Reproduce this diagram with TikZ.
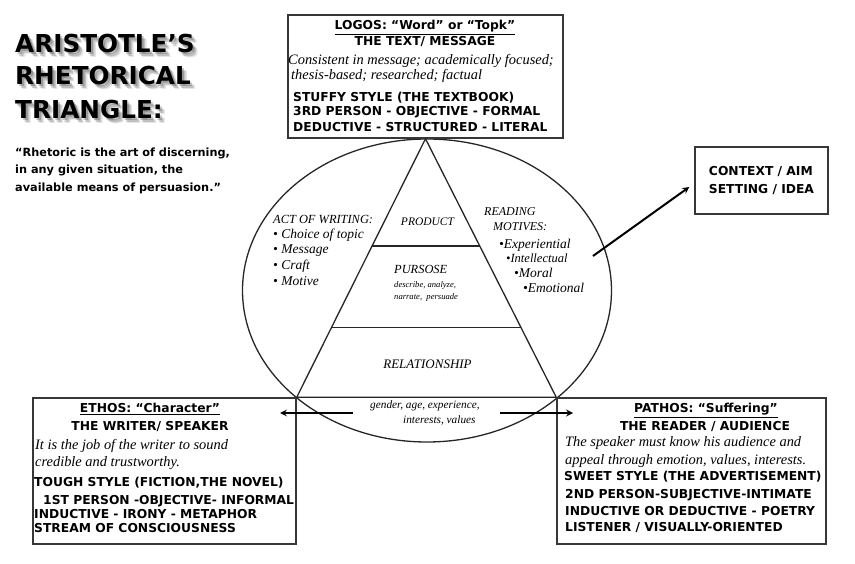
\documentclass[tikz,border=0pt]{standalone}
\usepackage{fontspec}
\setmainfont{Liberation Serif}
\newfontfamily\heavy{DejaVu Sans}
\usetikzlibrary{calc}
\definecolor{framegray}{RGB}{55,55,55}
\newcommand{\capsize}{\heavy\bfseries\fontsize{12.3}{15}\selectfont}
\newcommand{\itsize}{\itshape\fontsize{14.4}{17}\selectfont}
\tikzset{
  panel/.style={draw=framegray,line width=1.5pt,fill=white,inner sep=0pt},
  edge/.style={draw=black!85,line width=1.3pt},
  bigarrow/.style={->,>=stealth,line width=2pt},
  titleline/.style={anchor=base west,inner sep=0pt,font=\heavy\bfseries\fontsize{24.7}{28}\selectfont},
  quoteline/.style={anchor=base west,inner sep=0pt,font=\heavy\bfseries\fontsize{11.3}{13}\selectfont},
  capline/.style={anchor=base west,inner sep=0pt,font=\capsize},
  capmid/.style={anchor=base,inner sep=0pt,font=\capsize},
  itline/.style={anchor=base west,inner sep=0pt,font=\itsize},
  triline/.style={anchor=base west,inner sep=0pt,font=\itshape\fontsize{13.5}{16}\selectfont}
}

\begin{document}
\begin{tikzpicture}[x=1pt,y=-1pt]
\useasboundingbox (0,0) rectangle (855,564);

% title, soft shadow first
\foreach \d/\op in {5/0.1,3.5/0.16,2/0.22} {
  \node[titleline,opacity=\op] (shA\d) at (15+\d,53+\d) {ARISTOTLE’S};
  \node[titleline,opacity=\op] (shB\d) at (15+\d,85+\d) {RHETORICAL};
  \node[titleline,opacity=\op] (shC\d) at (15+\d,119+\d) {TRIANGLE:};
}
\node[titleline] (ttlA) at (15,53) {ARISTOTLE’S};
\node[titleline] (ttlB) at (15,85) {RHETORICAL};
\node[titleline] (ttlC) at (15,119) {TRIANGLE:};
\node[quoteline] (qtA) at (15,156.7) {“Rhetoric is the art of discerning,};
\node[quoteline] (qtB) at (15,174) {in any given situation, the};
\node[quoteline] (qtC) at (15,191.7) {available means of persuasion.”};

% the circle of the situation
\draw[edge] (427,290.5) ellipse [x radius=184.5pt, y radius=151.5pt];

% the three appeals
\node[panel,minimum width=275pt,minimum height=123pt] (logos) at (425.5,76.5) {};
\node[panel,minimum width=263pt,minimum height=146pt] (ethos) at (164.5,471) {};
\node[panel,minimum width=269pt,minimum height=146pt] (pathos) at (691.5,471) {};
\node[panel,minimum width=133pt,minimum height=67pt,font=\capsize,align=left] (ctx) at (761.5,180.5)
  {CONTEXT / AIM\\[2.7pt]SETTING / IDEA};

% triangle
\draw[edge] (logos.south) -- (ethos.north east) -- (pathos.north west) -- cycle;
\draw[edge] ($(logos.south)!0.415!(ethos.north east)$) -- ($(logos.south)!0.415!(pathos.north west)$);
\draw[edge] ($(logos.south)!0.729!(ethos.north east)$) -- ($(logos.south)!0.729!(pathos.north west)$);

% logos text
\node[capmid] (lg1) at (425,30) {\underline{LOGOS: “Word” or “Topk”}};
\node[capmid] (lg2) at (425,46) {THE TEXT/ MESSAGE};
\node[itline] (lg3) at (288,65) {Consistent in message; academically focused;};
\node[itline] (lg4) at (291,80) {thesis-based; researched; factual};
\node[capline] (lg5) at (293,101.7) {STUFFY STYLE (THE TEXTBOOK)};
\node[capline] (lg6) at (293,116) {3RD PERSON - OBJECTIVE - FORMAL};
\node[capline] (lg7) at (293,131.7) {DEDUCTIVE - STRUCTURED - LITERAL};

% ethos text
\node[capmid] (et1) at (150,412.7) {\underline{ETHOS: “Character”}};
\node[capmid] (et2) at (150,430.7) {THE WRITER/ SPEAKER};
\node[itline] (et3) at (35,449) {It is the job of the writer to sound};
\node[itline] (et4) at (35,466.7) {credible and trustworthy.};
\node[capline] (et5) at (34,486) {TOUGH STYLE (FICTION,THE NOVEL)};
\node[capline] (et6) at (43,504) {1ST PERSON -OBJECTIVE- INFORMAL};
\node[capline] (et7) at (34,518.3) {INDUCTIVE - IRONY - METAPHOR};
\node[capline] (et8) at (34,532.3) {STREAM OF CONSCIOUSNESS};

% pathos text
\node[capmid] (pa1) at (706,412.7) {\underline{PATHOS: “Suffering”}};
\node[capmid] (pa2) at (705,430) {THE READER / AUDIENCE};
\node[itline] (pa3) at (565,446.7) {The speaker must know his audience and};
\node[itline] (pa4) at (565,464) {appeal through emotion, values, interests.};
\node[capline] (pa5) at (564,480.7) {SWEET STYLE (THE ADVERTISEMENT)};
\node[capline] (pa6) at (565,498.3) {2ND PERSON-SUBJECTIVE-INTIMATE};
\node[capline] (pa7) at (565,515) {INDUCTIVE OR DEDUCTIVE - POETRY};
\node[capline] (pa8) at (565,531.7) {LISTENER / VISUALLY-ORIENTED};

% inside the circle
\node[triline,font=\itshape\fontsize{12.4}{15}\selectfont] (aw0) at (273,223.3) {ACT OF WRITING:};
\node[triline] (aw1) at (273,239) {• Choice of topic};
\node[triline] (aw2) at (273,254) {• Message};
\node[triline] (aw3) at (273,270) {• Craft};
\node[triline] (aw4) at (273,286) {• Motive};
\node[triline,font=\itshape\fontsize{12}{15}\selectfont] (rm0) at (484,216) {READING};
\node[triline,font=\itshape\fontsize{12}{15}\selectfont] (rm1) at (493,230.7) {MOTIVES:};
\node[triline] (rm2) at (499,248.3) {•Experiential};
\node[triline,font=\itshape\fontsize{12.5}{15}\selectfont] (rm3) at (506,262.7) {•Intellectual};
\node[triline] (rm4) at (514,277.3) {•Moral};
\node[triline] (rm5) at (523,292.7) {•Emotional};
\node[anchor=base,inner sep=0pt,font=\itshape\fontsize{11.5}{13}\selectfont] (prod) at (427.5,226) {PRODUCT};
\node[triline,font=\itshape\fontsize{12.4}{15}\selectfont] (purp) at (394,274) {PURSOSE};
\node[triline,font=\itshape\fontsize{8.6}{10}\selectfont] (purpA) at (394,287.3) {describe, analyze,};
\node[triline,font=\itshape\fontsize{8.6}{10}\selectfont] (purpB) at (394,300) {narrate,\ \ persuade};
\node[anchor=base,inner sep=0pt,font=\itshape\fontsize{13}{15}\selectfont] (rel) at (427.5,368.3) {RELATIONSHIP};
\node[triline,font=\itshape\fontsize{11.3}{13}\selectfont] (relA) at (370,409) {gender, age, experience,};
\node[triline,font=\itshape\fontsize{11.3}{13}\selectfont] (relB) at (403,423.3) {interests, values};

% arrows
\coordinate (ctxtail) at (593,256);
\draw[bigarrow] (ctxtail) -- ([xshift=-5pt,yshift=-6.5pt]ctx.west);
\coordinate (lefttail) at (353,413);
\coordinate (lefthead) at (280,413);
\coordinate (righttail) at (500,413);
\coordinate (righthead) at (573,413);
\draw[bigarrow] (lefttail) -- (lefthead);
\draw[bigarrow] (righttail) -- (righthead);
\end{tikzpicture}
\end{document}
